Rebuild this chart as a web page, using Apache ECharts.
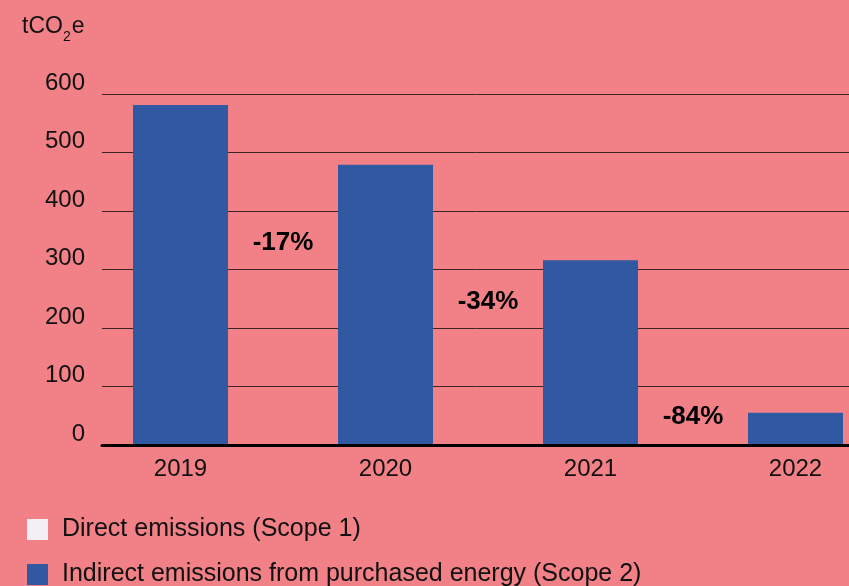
<!DOCTYPE html>
<html>
<head>
<meta charset="utf-8">
<script src="https://cdn.jsdelivr.net/npm/echarts@6/dist/echarts.min.js"></script>
<style>
  html, body { margin: 0; padding: 0; background: #F18087; overflow: hidden; }
  /* the plot runs past the right edge of the window, as in the reference */
  #chart { width: 898px; height: 586px; }
</style>
</head>
<body>
<div id="chart"></div>
<script>
const years = ['2019', '2020', '2021', '2022'];
const scope1 = [0, 0, 0, 0];
const scope2 = [581, 479, 316, 55];
const changeLabels = ['-17%', '-34%', '-84%'];
const changeX = [0.5, 1.5, 2.5]; // between two years
const changeY = [345, 244, 48];
const yTicks = [0, 100, 200, 300, 400, 500, 600];

const font = 'Liberation Sans, Arial, sans-serif';
const ink = '#111';

let myChart = echarts.init(document.getElementById('chart'));

let option = {
    backgroundColor: '#F18087',
    animation: false,
    textStyle: { fontFamily: font },
    title: {
        left: 17,
        top: 10,
        text: '{a|tCO}{b|2}{a|e}',
        textStyle: {
            rich: {
                a: { fontSize: 23, fontWeight: 'normal', color: ink, fontFamily: font, lineHeight: 24, verticalAlign: 'top' },
                b: { fontSize: 14, fontWeight: 'normal', color: ink, fontFamily: font, lineHeight: 14, padding: [15, 1, 0, 0], verticalAlign: 'top' }
            }
        }
    },
    legend: {
        orient: 'vertical',
        left: 22,
        top: 512,
        height: 120,
        itemWidth: 21,
        itemHeight: 21,
        itemGap: 20,
        icon: 'rect',
        data: ['Direct emissions (Scope 1)', 'Indirect emissions from purchased energy (Scope 2)'],
        textStyle: { fontSize: 25, lineHeight: 24, color: ink, fontFamily: font, padding: [0, 0, 0, 9] }
    },
    grid: [
        // grid lines and y labels
        { left: 102, right: 49, top: 94, bottom: 141 },
        // bars
        { left: 78, right: 0, top: 94, bottom: 141 }
    ],
    xAxis: [
        {
            gridIndex: 0,
            type: 'value',
            min: 0,
            max: 1,
            z: 5,
            axisLine: { show: true, onZero: false, lineStyle: { color: '#000', width: 3 } },
            axisTick: { show: false },
            axisLabel: { show: false },
            splitLine: { show: false }
        },
        {
            gridIndex: 1,
            type: 'category',
            data: years,
            axisLine: { show: false },
            axisTick: { show: false },
            axisLabel: { fontSize: 24, color: ink, margin: 12, fontFamily: font }
        },
        {
            gridIndex: 1,
            type: 'value',
            min: -0.5,
            max: 3.5,
            show: false
        }
    ],
    yAxis: [
        {
            gridIndex: 0,
            type: 'value',
            min: 0,
            max: 600,
            interval: 100,
            axisLine: { show: false },
            axisTick: { show: false },
            axisLabel: {
                fontSize: 24,
                color: ink,
                margin: 17,
                fontFamily: font,
                verticalAlign: 'bottom',
                lineHeight: 22,
                formatter: v => (yTicks.indexOf(v) >= 0 ? String(v) : '')
            },
            splitLine: { show: true, lineStyle: { color: '#3b2326', width: 1 } }
        },
        {
            gridIndex: 1,
            type: 'value',
            min: 0,
            max: 600,
            show: false
        }
    ],
    series: [
        {
            name: 'Direct emissions (Scope 1)',
            type: 'bar',
            xAxisIndex: 1,
            yAxisIndex: 1,
            stack: 'total',
            barWidth: 95,
            itemStyle: { color: '#F2F0F5' },
            data: scope1
        },
        {
            name: 'Indirect emissions from purchased energy (Scope 2)',
            type: 'bar',
            xAxisIndex: 1,
            yAxisIndex: 1,
            stack: 'total',
            barWidth: 95,
            itemStyle: { color: '#3159A2' },
            data: scope2
        },
        {
            type: 'scatter',
            xAxisIndex: 2,
            yAxisIndex: 1,
            symbolSize: 0,
            z: 6,
            itemStyle: { opacity: 1 },
            label: {
                show: true,
                position: 'inside',
                fontSize: 26,
                fontWeight: 'bold',
                color: '#000',
                fontFamily: font,
                formatter: p => changeLabels[p.dataIndex]
            },
            data: changeX.map((x, i) => [x, changeY[i]])
        }
    ]
};

myChart.setOption(option);
</script>
</body>
</html>
